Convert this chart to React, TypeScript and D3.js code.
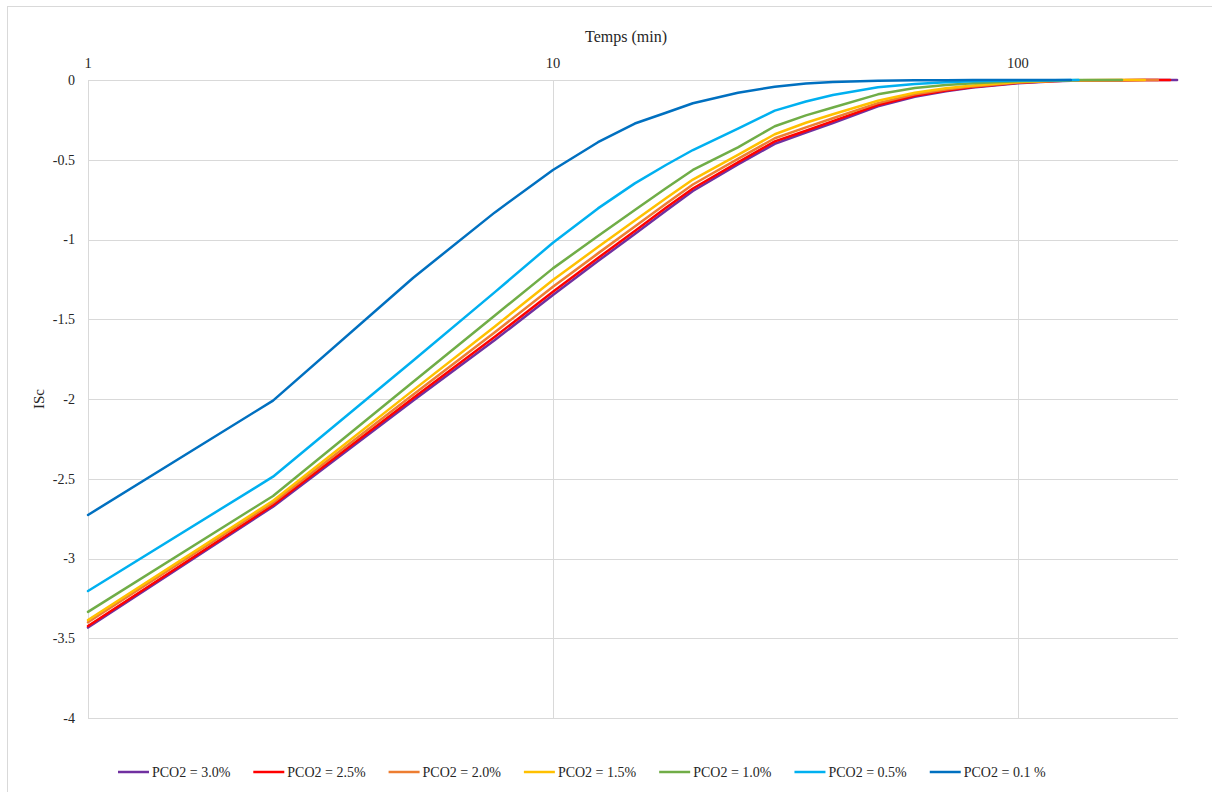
import React, { useMemo } from "react";
import * as d3 from "d3";

const times = [1, 2.5, 5, 7.5, 10, 12.5, 15, 17.5, 20, 25, 30, 35, 40, 50, 60, 70, 80, 100, 120, 130, 135, 167.5, 187.5, 200, 212.5, 220];

const pco2_30 = [-3.433, -2.675, -2.011, -1.630, -1.348, -1.135, -0.966, -0.820, -0.696, -0.530, -0.400, -0.330, -0.270, -0.165, -0.105, -0.070, -0.047, -0.020, -0.008, -0.004, -0.003, -0.001, 0, 0, 0, 0];
const pco2_25 = [-3.423, -2.665, -1.996, -1.610, -1.327, -1.116, -0.947, -0.801, -0.680, -0.516, -0.385, -0.318, -0.258, -0.157, -0.099, -0.066, -0.044, -0.018, -0.007, -0.003, -0.002, -0.001, 0, 0, 0, null];
const pco2_20 = [-3.400, -2.650, -1.973, -1.582, -1.296, -1.087, -0.918, -0.776, -0.655, -0.495, -0.365, -0.297, -0.240, -0.145, -0.090, -0.060, -0.040, -0.016, -0.006, -0.003, -0.002, 0, 0, 0, null, null];
const pco2_15 = [-3.386, -2.638, -1.946, -1.545, -1.254, -1.047, -0.881, -0.742, -0.624, -0.470, -0.340, -0.268, -0.215, -0.130, -0.080, -0.052, -0.035, -0.013, -0.005, -0.002, -0.001, 0, 0, null, null, null];
const pco2_10 = [-3.335, -2.608, -1.894, -1.476, -1.181, -0.978, -0.815, -0.679, -0.564, -0.422, -0.290, -0.222, -0.172, -0.090, -0.050, -0.032, -0.020, -0.008, -0.003, -0.001, 0, 0, null, null, null, null];
const pco2_05 = [-3.204, -2.487, -1.760, -1.330, -1.020, -0.805, -0.648, -0.533, -0.439, -0.305, -0.192, -0.135, -0.094, -0.046, -0.025, -0.014, -0.008, -0.003, -0.001, 0, 0, null, null, null, null, null];
const pco2_01 = [-2.727, -2.010, -1.241, -0.830, -0.564, -0.390, -0.273, -0.205, -0.146, -0.080, -0.042, -0.022, -0.013, -0.005, -0.002, -0.001, 0, 0, 0, 0, null, null, null, null, null, null];

const seriesNames = ["PCO2 = 3.0%", "PCO2 = 2.5%", "PCO2 = 2.0%", "PCO2 = 1.5%", "PCO2 = 1.0%", "PCO2 = 0.5%", "PCO2 = 0.1 %"];
const seriesValues = [pco2_30, pco2_25, pco2_20, pco2_15, pco2_10, pco2_05, pco2_01];
const seriesColors = ["#7030A0", "#FF0000", "#ED7D31", "#FFC000", "#70AD47", "#00B0F0", "#0070C0"];

const xTicks = [1, 10, 100];
const yTicks = [0, -0.5, -1, -1.5, -2, -2.5, -3, -3.5, -4];

const FONT = '"Liberation Serif", "Times New Roman", Times, serif';

export default function App() {
  const W = 1212, H = 792;
  const left = 88, right = 1178, top = 80, bottom = 718;
  const x = d3.scaleLog().domain([1, 221]).range([left, right]);
  const y = d3.scaleLinear().domain([0, -4]).range([top, bottom]);

  const line = d3
    .line<[number, number | null]>()
    .defined((d) => d[1] !== null)
    .x((d) => x(d[0]))
    .y((d) => y(d[1] as number));

  const legendWidths = useMemo(() => {
    const c = document.createElement("canvas").getContext("2d");
    if (!c) return seriesNames.map(() => 78);
    c.font = `14px ${FONT}`;
    return seriesNames.map((n) => c.measureText(n).width);
  }, []);

  const legendItems: { x: number; name: string; color: string }[] = [];
  let lx = 118;
  seriesNames.forEach((n, i) => {
    legendItems.push({ x: lx, name: n, color: seriesColors[i] });
    lx += 31 + 3 + legendWidths[i] + 23;
  });

  const textColor = "#262626";
  const grid = "#d9d9d9";
  const ts = { fontFamily: FONT };

  return (
    <svg
      width={W}
      height={H}
      style={{ position: "absolute", left: 0, top: 0, background: "#fff", fontFamily: FONT }}
    >
      <rect x={7.5} y={6.5} width={1220} height={820} fill="#fff" stroke={grid} strokeWidth={1} />
      {yTicks.map((t) => (
        <line key={"gy" + t} x1={left} x2={right} y1={Math.round(y(t)) + 0.5} y2={Math.round(y(t)) + 0.5} stroke={grid} strokeWidth={1} />
      ))}
      {xTicks.map((t) => (
        <line key={"gx" + t} x1={Math.round(x(t)) + 0.5} x2={Math.round(x(t)) + 0.5} y1={top} y2={bottom} stroke={grid} strokeWidth={1} />
      ))}
      {yTicks.map((t) => (
        <text key={"ty" + t} style={ts} x={75} y={y(t)} dy="0.35em" textAnchor="end" fontSize={14} fill={textColor}>
          {t === 0 ? "0" : String(t)}
        </text>
      ))}
      {xTicks.map((t) => (
        <text key={"tx" + t} style={ts} x={x(t)} y={68} textAnchor="middle" fontSize={14.5} fill={textColor}>
          {String(t)}
        </text>
      ))}
      <text style={ts} x={626} y={42} textAnchor="middle" fontSize={16} fill={textColor}>
        Temps (min)
      </text>
      <text style={ts} transform={`translate(44, ${(top + bottom) / 2}) rotate(-90)`} textAnchor="middle" fontSize={15} fill={textColor}>
        ISc
      </text>
      {seriesValues.map((vals, i) => (
        <path
          key={"s" + i}
          d={line(times.map((t, j) => [t, vals[j]] as [number, number | null])) || ""}
          fill="none"
          stroke={seriesColors[i]}
          strokeWidth={2.5}
          strokeLinejoin="round"
          strokeLinecap="round"
        />
      ))}
      {legendItems.map((it, i) => (
        <g key={"l" + i}>
          <line x1={it.x} x2={it.x + 31} y1={772} y2={772} stroke={it.color} strokeWidth={2.5} />
          <text style={ts} x={it.x + 34} y={772} dy="0.35em" fontSize={14} fill={textColor}>
            {it.name}
          </text>
        </g>
      ))}
    </svg>
  );
}
